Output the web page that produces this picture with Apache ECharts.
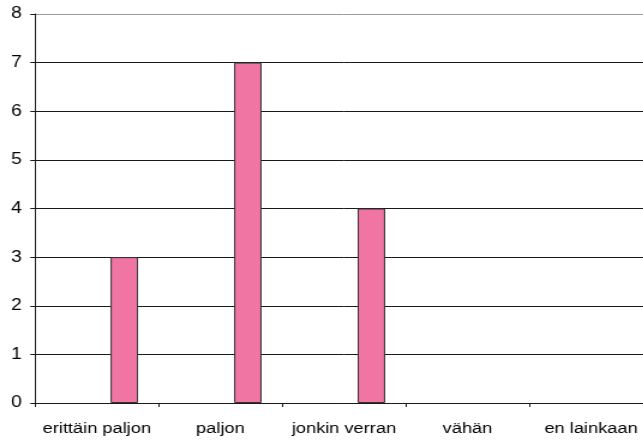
<!DOCTYPE html>
<html>
<head>
<meta charset="utf-8">
<script src="https://cdn.jsdelivr.net/npm/echarts@6/dist/echarts.min.js"></script>
<style>
  html, body { margin: 0; padding: 0; background: #fff; overflow: hidden; width: 643px; height: 442px; }
  /* plot runs slightly past the right edge of the page, text is drawn wide */
  #chart { width: 544px; height: 442px; transform: scaleX(1.2); transform-origin: 0 0; }
</style>
</head>
<body>
<div id="chart"></div>
<script>
// Answer categories and counts
const categories = ['erittäin paljon', 'paljon', 'jonkin verran', 'vähän', 'en lainkaan'];
const counts = [3, 7, 4, 0, 0];
// Empty companion series that hold the first two slots of each cluster
const emptySeries = [null, null, null, null, null];
const yTicks = [0, 1, 2, 3, 4, 5, 6, 7, 8];

const gridColors = yTicks.map((v, i) => i === yTicks.length - 1 ? '#9a9a9a' : '#1a1a1a');
const font = '"Liberation Sans", Arial, sans-serif';

const chart = echarts.init(document.getElementById('chart'), null, { renderer: 'canvas' });
chart.setOption({
  animation: false,
  backgroundColor: '#fff',
  grid: { left: 29.2, right: 0, top: 14, bottom: 39, containLabel: false },
  xAxis: {
    type: 'category',
    data: categories,
    axisLine: { show: true, lineStyle: { color: '#1a1a1a', width: 1 } },
    axisTick: { show: true, length: 4, alignWithLabel: false, lineStyle: { color: '#1a1a1a' } },
    axisLabel: { color: '#000', fontFamily: font, fontSize: 15.2, margin: 18, interval: 0 },
    splitLine: { show: false }
  },
  yAxis: {
    type: 'value',
    min: yTicks[0],
    max: yTicks[yTicks.length - 1],
    interval: 1,
    axisLine: { show: true, lineStyle: { color: '#1a1a1a', width: 1 } },
    axisTick: { show: true, length: 4, lineStyle: { color: '#1a1a1a' } },
    axisLabel: { color: '#000', fontFamily: font, fontSize: 16, margin: 11 },
    splitLine: { show: true, lineStyle: { color: gridColors, width: 1 } }
  },
  series: [
    { type: 'bar', data: emptySeries, barGap: '0%', barCategoryGap: '33.3%' },
    { type: 'bar', data: emptySeries, barGap: '0%', barCategoryGap: '33.3%' },
    {
      type: 'bar',
      // zero counts get no outline so nothing is drawn on the axis
      data: counts.map(v => (v === 0 ? { value: v, itemStyle: { borderWidth: 0 } } : v)),
      barGap: '0%',
      barCategoryGap: '33.3%',
      itemStyle: { color: '#f075a3', borderColor: '#333', borderWidth: 1 }
    }
  ]
});
</script>
</body>
</html>
